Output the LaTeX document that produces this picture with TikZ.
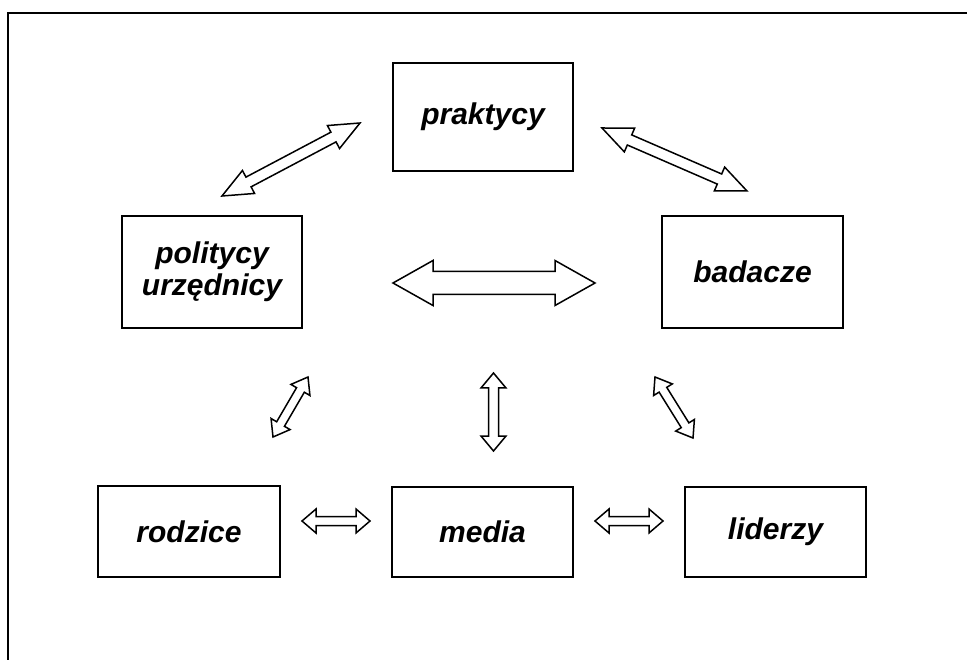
\documentclass[tikz,border=0pt]{standalone}
\usepackage{fontspec}
\setmainfont{Liberation Sans}
\usetikzlibrary{calc}
\tikzset{
  box/.style={draw, line width=2pt, inner sep=0pt, font=\fontsize{30}{32}\selectfont\bfseries\itshape, align=center},
  blockarr/.style={draw, line width=1.5pt, fill=white, line join=miter},
  frame/.style={line width=2pt}
}
% #1 start, #2 end, #3 shaft half width, #4 head half width, #5 head length
\newcommand{\dblarr}[5]{%
  \coordinate (q1) at ($(#1)!#5!(#2)$);
  \coordinate (q2) at ($(#2)!#5!(#1)$);
  \draw[blockarr] (#1) -- ($(q1)!#4!90:(#2)$) -- ($(q1)!#3!90:(#2)$)
    -- ($(q2)!#3!-90:(#1)$) -- ($(q2)!#4!-90:(#1)$) -- (#2)
    -- ($(q2)!#4!90:(#1)$) -- ($(q2)!#3!90:(#1)$)
    -- ($(q1)!#3!-90:(#2)$) -- ($(q1)!#4!-90:(#2)$) -- cycle;
}
\begin{document}
\begin{tikzpicture}[x=1pt,y=-1pt]
\useasboundingbox (0,0) rectangle (967,660);
\fill[white] (0,0) rectangle (967,660);
% outer frame (cropped at right and bottom)
\coordinate (fTL) at (8,13);
\coordinate (fTR) at (967,13);
\coordinate (fBL) at (8,660);
\draw[frame] (fTR) -- (fTL) -- (fBL);
% boxes
\node[box, minimum width=180pt, minimum height=108pt] (prak) at (483,117) {praktycy};
\node[box, minimum width=180pt, minimum height=112pt] (pol) at (212,272) {politycy\\urzędnicy};
\node[box, minimum width=181pt, minimum height=112pt] (bad) at (752.5,272) {badacze};
\node[box, minimum width=182pt, minimum height=91pt] (rod) at (189,531.5) {rodzice};
\node[box, minimum width=181pt, minimum height=90pt] (med) at (482.5,532) {media};
\node[box, minimum width=181pt, minimum height=90pt] (lid) at (775.5,532) {liderzy};
% arrow end points
\coordinate (a1s) at (222,196);   \coordinate (a1e) at (360,123);
\coordinate (a2s) at (602,128);   \coordinate (a2e) at (747,191);
\coordinate (a3s) at (393,283);   \coordinate (a3e) at (595,283);
\coordinate (a4s) at (273,437);   \coordinate (a4e) at (308,377);
\coordinate (a5s) at (493.5,373); \coordinate (a5e) at (493.5,451);
\coordinate (a6s) at (655,377);   \coordinate (a6e) at (693,438);
\coordinate (a7s) at (302,521);   \coordinate (a7e) at (370,521);
\coordinate (a8s) at (595,521);   \coordinate (a8e) at (663,521);
\dblarr{a1s}{a1e}{5.5pt}{13pt}{30pt}
\dblarr{a2s}{a2e}{5.5pt}{13pt}{30pt}
\dblarr{a3s}{a3e}{11.5pt}{22.5pt}{40pt}
\dblarr{a4s}{a4e}{4.5pt}{11pt}{15pt}
\dblarr{a5s}{a5e}{5pt}{12.5pt}{15pt}
\dblarr{a6s}{a6e}{4.5pt}{11pt}{15pt}
\dblarr{a7s}{a7e}{4.5pt}{12pt}{14pt}
\dblarr{a8s}{a8e}{4.5pt}{12pt}{14pt}
\end{tikzpicture}
\end{document}
